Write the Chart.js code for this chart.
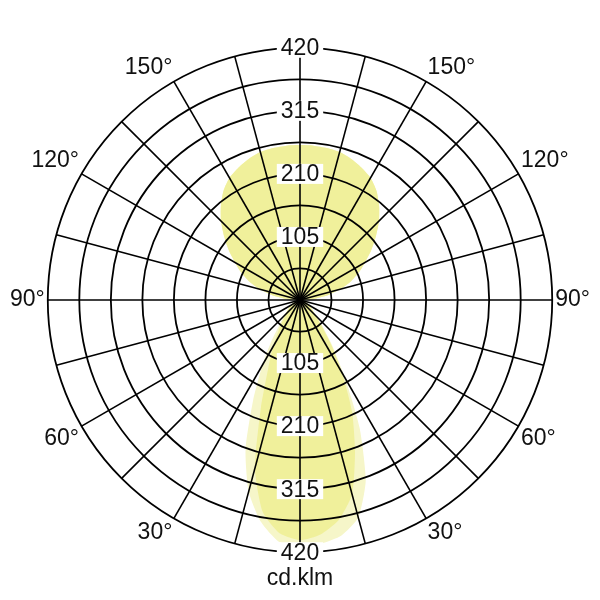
<!DOCTYPE html>
<html>
<head>
<meta charset="utf-8">
<script src="https://cdn.jsdelivr.net/npm/chart.js@4/dist/chart.umd.min.js"></script>
<style>
  html, body { margin: 0; padding: 0; background: #fff; }
  #wrap { position: absolute; left: 0; top: 0; width: 600px; height: 600px; }
</style>
</head>
<body>
<div id="wrap"><canvas id="c" width="600" height="600"></canvas></div>
<script>
// ---- data (gamma angles 0..180 deg, 5 deg step; values in cd/klm) ----
const gammaAngles = [0,5,10,15,20,25,30,35,40,45,50,55,60,65,70,75,80,85,90,95,100,105,110,115,120,125,130,135,140,145,150,155,160,165,170,175,180];

// Plane 1 (darker fill) – left half and right half of the diagram
const plane1Left  = [400,390,358,290,190,125,90,62,45,34,27,22,18,14,10,8,6,5,5,25,48,70,90,108,125,145,165,186,205,222,235,243,250,255,257,258,258];
const plane1Right = [400,392,372,335,268,205,140,90,55,38,28,22,18,14,10,8,6,5,5,25,48,70,90,108,125,145,165,186,205,222,235,243,250,255,257,258,258];

// Plane 2 (lighter fill)
const plane2Left  = [410,404,375,330,265,185,125,82,52,38,28,22,18,14,10,8,6,5,5,25,48,70,90,108,125,145,165,186,205,222,235,243,250,255,257,258,258];
const plane2Right = [410,407,398,375,320,235,150,95,60,40,29,22,18,14,10,8,6,5,5,25,48,70,90,108,125,145,165,186,205,222,235,243,250,255,257,258,258];

const angleLabelValues = [30, 60, 90, 120, 150];   // labelled gamma angles
const tickLabelValues  = [105, 210, 315, 420];      // labelled intensity rings
const gridStep = 52.5;
const scaleMax = 420;
const unitLabel = 'cd.klm';

// ---- build radar arrays: index 0 = bottom, going clockwise (left side first) ----
const N = 72;
function fullSeries(left, right) {
  const out = [];
  for (let i = 0; i < N; i++) {
    if (i <= 36) out.push(left[i]);
    else out.push(right[72 - i]);
  }
  return out;
}
const labels = [];
for (let i = 0; i < N; i++) {
  const g = i <= 36 ? gammaAngles[i] : gammaAngles[72 - i];
  labels.push(angleLabelValues.includes(g) ? g + '°' : '');
}

const FONT = '"Liberation Sans", Arial, Helvetica, sans-serif';
const INK = '#000000';

const overlayLabels = {
  id: 'overlayLabels',
  afterDraw(chart) {
    const s = chart.scales.r;
    const ctx = chart.ctx;
    ctx.save();
    ctx.font = '23px ' + FONT;
    ctx.textAlign = 'center';
    ctx.textBaseline = 'middle';
    tickLabelValues.forEach(v => {
      const d = s.getDistanceFromCenterForValue(v);
      const txt = String(v);
      const w = ctx.measureText(txt).width;
      [s.yCenter - d, s.yCenter + d].forEach(y => {
        ctx.fillStyle = '#fff';
        ctx.fillRect(s.xCenter - w / 2 - 4, y - 10, w + 8, 20);
        ctx.fillStyle = '#111';
        ctx.fillText(txt, s.xCenter, y + 1);
      });
    });
    ctx.textBaseline = 'alphabetic';
    ctx.fillText(unitLabel, s.xCenter, s.yCenter + s.drawingArea + 33);
    ctx.restore();
  }
};

new Chart(document.getElementById('c'), {
  type: 'radar',
  data: {
    labels: labels,
    datasets: [
      {
        label: 'C0-C180',
        data: fullSeries(plane1Left, plane1Right),
        backgroundColor: 'rgb(240,240,155)',
        borderWidth: 0,
        pointRadius: 0,
        fill: true,
        tension: 0.2
      },
      {
        label: 'C90-C270',
        data: fullSeries(plane2Left, plane2Right),
        backgroundColor: 'rgb(246,246,201)',
        borderWidth: 0,
        pointRadius: 0,
        fill: true,
        tension: 0.2
      }
    ]
  },
  options: {
    responsive: false,
    animation: false,
    layout: { padding: 10 },
    plugins: { legend: { display: false }, tooltip: { enabled: false } },
    scales: {
      r: {
        min: 0,
        max: scaleMax,
        startAngle: 180,
        ticks: { display: false, stepSize: gridStep },
        grid: { circular: true, color: INK, lineWidth: 1.8, z: 1 },
        angleLines: {
          display: true,
          color: INK,
          lineWidth: (ctx) => (ctx.index % 3 === 0 ? 1.6 : 0)
        },
        pointLabels: {
          padding: 3,
          color: '#111',
          font: { family: FONT, size: 23, lineHeight: 1.0 }
        }
      }
    }
  },
  plugins: [overlayLabels]
});
</script>
</body>
</html>
